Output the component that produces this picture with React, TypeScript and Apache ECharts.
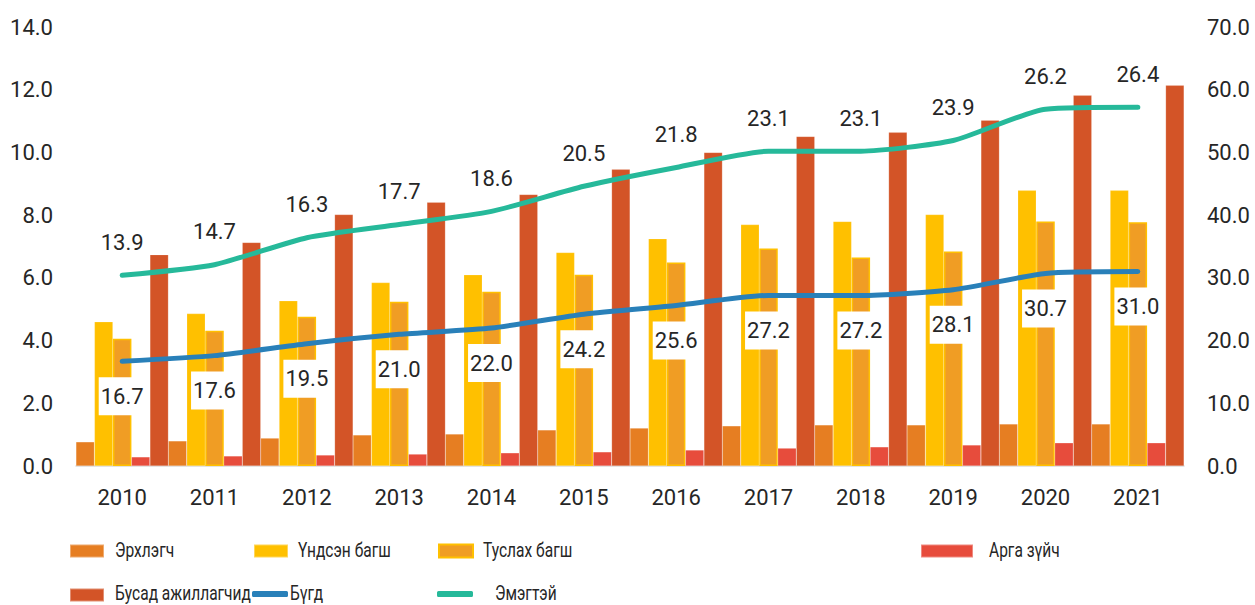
import React, { useEffect, useRef } from "react";
import * as echarts from "echarts";

const years = ["2010", "2011", "2012", "2013", "2014", "2015", "2016", "2017", "2018", "2019", "2020", "2021"];
const erkhlegch = [0.77, 0.8, 0.89, 0.99, 1.02, 1.15, 1.21, 1.28, 1.31, 1.31, 1.34, 1.34];
const undsenBagsh = [4.6, 4.86, 5.27, 5.85, 6.1, 6.81, 7.25, 7.7, 7.8, 8.02, 8.79, 8.79];
const tuslakhBagsh = [4.06, 4.31, 4.76, 5.24, 5.56, 6.1, 6.49, 6.94, 6.65, 6.84, 7.8, 7.77];
const argaZuich = [0.29, 0.32, 0.35, 0.38, 0.42, 0.45, 0.51, 0.57, 0.61, 0.67, 0.74, 0.74];
const busad = [6.74, 7.13, 8.02, 8.41, 8.66, 9.46, 10.0, 10.51, 10.64, 11.03, 11.82, 12.14];
const bugd = [16.7, 17.6, 19.5, 21.0, 22.0, 24.2, 25.6, 27.2, 27.2, 28.1, 30.7, 31.0];
const emegteiLine = [30.4, 32.1, 36.4, 38.5, 40.6, 44.6, 47.6, 50.2, 50.2, 51.9, 56.9, 57.2];
const emegteiLabels = [13.9, 14.7, 16.3, 17.7, 18.6, 20.5, 21.8, 23.1, 23.1, 23.9, 26.2, 26.4];

const seriesNames = ["Эрхлэгч", "Үндсэн багш", "Туслах багш", "Арга зүйч", "Бусад ажиллагчид", "Бүгд", "Эмэгтэй"];

const FONT = "Roboto, 'Noto Sans', sans-serif";
const TXT = "#262626";

export default function App() {
  const ref = useRef<HTMLDivElement>(null);

  useEffect(() => {
    document.body.style.margin = "0";
    const chart = echarts.init(ref.current!, null, { renderer: "svg" });

    const barBase = (name: string, data: number[], color: string, extra: any = {}) => ({
      name,
      type: "bar",
      data,
      yAxisIndex: 0,
      barWidth: 18.5,
      barGap: "0%",
      barCategoryGap: "0%",
      itemStyle: { color, borderColor: "rgba(255,255,255,0.35)", borderWidth: 0.5, ...extra },
      z: 2,
    });

    // legend icons (texts drawn narrow below to match the condensed face)
    const legendIcon = (name: string, left: number, centerY: number, icon: string, w: number, h: number) => ({
      data: [{ name, icon }],
      left,
      top: centerY - h / 2,
      padding: 0,
      itemWidth: w,
      itemHeight: h,
      selectedMode: false,
      formatter: () => "",
      textStyle: { fontSize: 1, lineHeight: 1 },
    });

    const legendText = (text: string, x: number, y: number) => ({
      type: "text",
      x,
      y,
      scaleX: 0.74,
      style: {
        text,
        font: `21px ${FONT}`,
        lineHeight: 19,
        fill: TXT,
        textAlign: "left",
        textVerticalAlign: "middle",
      },
    });

    const row1 = 550;
    const row2 = 593;

    chart.setOption({
      animation: false,
      textStyle: { fontFamily: FONT },
      grid: { left: 76, right: 71, top: 27, bottom: 139, containLabel: false },
      legend: [
        legendIcon(seriesNames[0], 69, row1, "rect", 34, 13),
        legendIcon(seriesNames[1], 253, row1, "rect", 34, 13),
        legendIcon(seriesNames[2], 438, row1, "rect", 34, 13),
        legendIcon(seriesNames[3], 920, row1, "rect", 52, 13),
        legendIcon(seriesNames[4], 69, row2 + 1, "rect", 34, 13),
        legendIcon(seriesNames[5], 252, row2 + 1, "roundRect", 36, 6),
        legendIcon(seriesNames[6], 437, row2 + 1, "roundRect", 36, 6),
      ],
      graphic: [
        legendText(seriesNames[0], 115, row1),
        legendText(seriesNames[1], 298, row1),
        legendText(seriesNames[2], 483, row1),
        legendText(seriesNames[3], 989, row1),
        legendText(seriesNames[4], 115, row2),
        legendText(seriesNames[5], 290, row2),
        legendText(seriesNames[6], 495, row2),
      ],
      xAxis: {
        type: "category",
        data: years,
        axisTick: { show: false },
        axisLine: { lineStyle: { color: "#D9D9D9", width: 1.5 } },
        axisLabel: { fontFamily: FONT, fontSize: 22, color: TXT, margin: 20 },
      },
      yAxis: [
        {
          type: "value",
          min: 0,
          max: 14,
          interval: 2,
          splitLine: { show: false },
          axisLine: { show: false },
          axisTick: { show: false },
          axisLabel: { fontFamily: FONT, fontSize: 22, color: TXT, margin: 23, formatter: (v: number) => v.toFixed(1) },
        },
        {
          type: "value",
          min: 0,
          max: 70,
          interval: 10,
          splitLine: { show: false },
          axisLine: { show: false },
          axisTick: { show: false },
          axisLabel: { fontFamily: FONT, fontSize: 22, color: TXT, margin: 23, formatter: (v: number) => v.toFixed(1) },
        },
      ],
      series: [
        barBase(seriesNames[0], erkhlegch, "#E67E22"),
        barBase(seriesNames[1], undsenBagsh, "#FFC000"),
        barBase(seriesNames[2], tuslakhBagsh, "#F09D24", { borderColor: "#FFC000", borderWidth: 1.5 }),
        barBase(seriesNames[3], argaZuich, "#E74C3C"),
        barBase(seriesNames[4], busad, "#D35427"),
        {
          name: seriesNames[5],
          type: "line",
          data: bugd,
          yAxisIndex: 1,
          smooth: 0.2,
          symbol: "circle",
          symbolSize: 0,
          showSymbol: true,
          lineStyle: { color: "#2980B9", width: 5, cap: "round" },
          itemStyle: { color: "#2980B9" },
          z: 5,
          label: {
            show: true,
            position: "bottom",
            distance: 16,
            fontFamily: FONT,
            fontSize: 22,
            color: TXT,
            backgroundColor: "#FFFFFF",
            padding: [8, 2, 8, 2],
            formatter: (p: any) => Number(p.value).toFixed(1),
          },
        },
        {
          name: seriesNames[6],
          type: "line",
          data: emegteiLine,
          yAxisIndex: 1,
          smooth: 0.2,
          symbol: "circle",
          symbolSize: 0,
          showSymbol: true,
          lineStyle: { color: "#26B99A", width: 5, cap: "round" },
          itemStyle: { color: "#26B99A" },
          z: 5,
          label: {
            show: true,
            position: "top",
            distance: 22,
            fontFamily: FONT,
            fontSize: 22,
            color: TXT,
            formatter: (p: any) => emegteiLabels[p.dataIndex].toFixed(1),
          },
        },
      ],
    });

    return () => chart.dispose();
  }, []);

  return <div ref={ref} style={{ width: 1255, height: 605 }} />;
}
